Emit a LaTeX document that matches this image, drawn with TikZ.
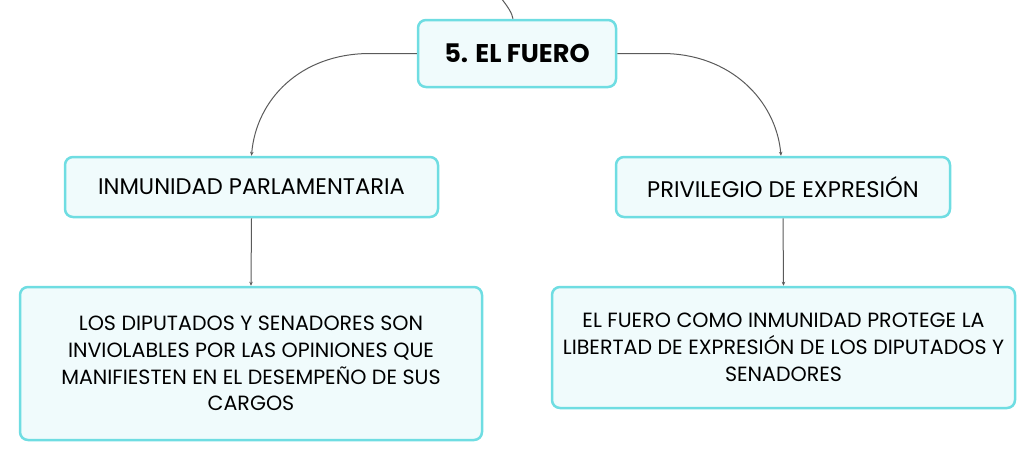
\documentclass[tikz,border=0pt]{standalone}
\usepackage{fontspec}
\setmainfont{Poppins}
\usetikzlibrary{arrows.meta}
\definecolor{bordc}{HTML}{6FDDE2}
\definecolor{fillc}{HTML}{F0FBFC}
\definecolor{linec}{HTML}{5A5A5A}
\tikzset{
  box/.style={draw=bordc, fill=fillc, line width=2.5pt, rounded corners=8pt, inner sep=0pt, align=center},
  conn/.style={draw=linec, line width=1pt, -{Stealth[length=4pt,width=3.5pt]}},
  midtext/.style={font=\fontsize{22.6}{26}\selectfont},
  lowtext/.style={font=\fontsize{20.6}{26.8}\selectfont},
}
\begin{document}
\begin{tikzpicture}[x=1pt,y=-1pt]
\useasboundingbox (0,0) rectangle (1035,461);
\node[box, minimum width=198pt, minimum height=67pt, font=\bfseries\fontsize{25.6}{30}\selectfont] (top) at (517,53.5) {5. EL FUERO};
\node[box, midtext, minimum width=373pt, minimum height=60pt] (lm) at (251.5,187) {INMUNIDAD PARLAMENTARIA};
\node[box, midtext, minimum width=334pt, minimum height=60pt] (rm) at (783,187) {PRIVILEGIO DE EXPRESIÓN};
\node[box, lowtext, minimum width=462pt, minimum height=153pt] (lb) at (251,363.5) {LOS DIPUTADOS Y SENADORES SON\\INVIOLABLES POR LAS OPINIONES QUE\\MANIFIESTEN EN EL DESEMPEÑO DE SUS\\CARGOS};
\node[box, lowtext, minimum width=463pt, minimum height=121pt] (rb) at (783.5,347.5) {EL FUERO COMO INMUNIDAD PROTEGE LA\\LIBERTAD DE EXPRESIÓN DE LOS DIPUTADOS Y\\SENADORES};
\coordinate (up) at (501,-2);
\draw[draw=linec, line width=1pt] (up) .. controls (508,7) and (512,13) .. ([xshift=-4pt]top.north);
\draw[conn] (top.west) -- (370,53.5) .. controls (300,53.5) and (256,100) .. (lm.north);
\draw[conn] (top.east) -- (662,53.5) .. controls (730,53.5) and (776,100) .. ([xshift=-2pt]rm.north);
\draw[conn] (lm.south) -- (lb.north);
\draw[conn] (rm.south) -- (rb.north);
\end{tikzpicture}
\end{document}
